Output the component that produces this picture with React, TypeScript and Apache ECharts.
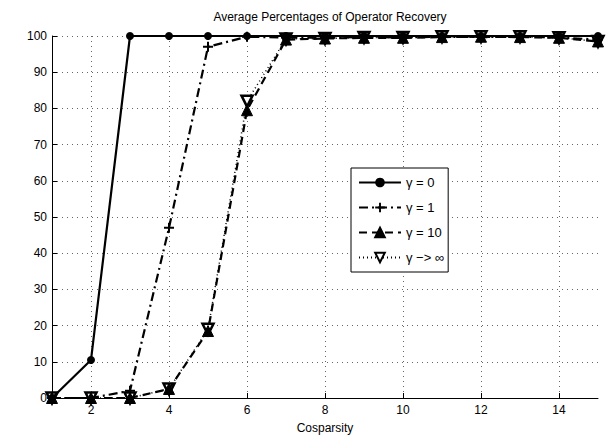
import React, { useEffect, useRef } from "react";
import * as echarts from "echarts";

const categories = ["1", "2", "3", "4", "5", "6", "7", "8", "9", "10", "11", "12", "13", "14", "15"];
const gamma0 = [0, 10.5, 100, 100, 100, 100, 100, 100, 100, 100, 100, 100, 100, 100, 100];
const gamma1 = [0, 0, 2, 47, 97, 99.8, 99.6, 99.5, 99.7, 99.6, 99.8, 99.7, 99.8, 99.6, 99];
const gamma10 = [0, 0, 0, 2.5, 18.5, 79.5, 99, 99.3, 99.5, 99.5, 99.7, 99.8, 99.7, 99.5, 98.5];
const gammaInf = [0, 0, 0, 2.5, 19, 82, 99.2, 99.3, 99.6, 99.6, 99.8, 99.8, 99.8, 99.5, 98.5];
const names = ["γ = 0", "γ = 1", "γ = 10", "γ −> ∞"];

const plusPath = "path://M4,0 L6,0 L6,4 L10,4 L10,6 L6,6 L6,10 L4,10 L4,6 L0,6 L0,4 L4,4 Z";

export default function App() {
  const ref = useRef<HTMLDivElement>(null);
  useEffect(() => {
    const chart = echarts.init(ref.current!, undefined, { renderer: "svg" });
    const font = "'Liberation Sans', Arial, sans-serif";
    const evenIdx = (i: number) => (i + 1) % 2 === 0;
    chart.setOption({
      animation: false,
      backgroundColor: "#fff",
      textStyle: { fontFamily: font },
      title: {
        text: "Average Percentages of Operator Recovery",
        left: 325,
        textAlign: "center",
        top: 6,
        textStyle: { fontSize: 12, fontWeight: "normal", color: "#000", fontFamily: font },
      },
      grid: { left: 52, right: 12, top: 36, bottom: 41, containLabel: false },
      legend: {
        orient: "vertical",
        left: 351,
        top: 168,
        width: 97,
        backgroundColor: "#fff",
        borderColor: "#000",
        borderWidth: 1,
        borderRadius: 0,
        padding: [8, 4, 8, 7],
        itemWidth: 42,
        itemHeight: 12,
        itemGap: 12,
        textStyle: { fontSize: 13, color: "#000", fontFamily: font },
        data: names,
      },
      xAxis: {
        type: "category",
        data: categories,
        boundaryGap: false,
        name: "Cosparsity",
        nameLocation: "middle",
        nameGap: 24,
        nameTextStyle: { fontSize: 12, color: "#000" },
        axisLine: { lineStyle: { color: "#000", width: 1 } },
        axisTick: { inside: true, interval: (i: number) => evenIdx(i), length: 5, lineStyle: { color: "#000" } },
        axisLabel: { interval: (i: number) => evenIdx(i), fontSize: 12, color: "#000", margin: 6 },
        splitLine: { show: true, interval: (i: number) => evenIdx(i), lineStyle: { color: "#666", type: [1, 4], width: 1 } },
      },
      yAxis: {
        type: "value",
        min: 0,
        max: 100,
        interval: 10,
        axisLine: { show: true, lineStyle: { color: "#000", width: 1 } },
        axisTick: { show: true, inside: true, length: 5, lineStyle: { color: "#000" } },
        axisLabel: { fontSize: 12, color: "#000", margin: 5 },
        splitLine: { show: true, lineStyle: { color: "#666", type: [1, 4], width: 1 } },
      },
      series: [
        {
          name: names[0],
          type: "line",
          data: gamma0,
          symbol: "circle",
          symbolSize: 8,
          itemStyle: { color: "#000" },
          lineStyle: { color: "#000", width: 2.2, type: "solid" },
          z: 5,
        },
        {
          name: names[1],
          type: "line",
          data: gamma1,
          symbol: plusPath,
          symbolSize: 10,
          itemStyle: { color: "#000" },
          lineStyle: { color: "#000", width: 2.2, type: [9, 4, 2, 4] },
          z: 4,
        },
        {
          name: names[2],
          type: "line",
          data: gamma10,
          symbol: "triangle",
          symbolSize: 11,
          itemStyle: { color: "#000", borderColor: "#000", borderWidth: 1 },
          lineStyle: { color: "#000", width: 2.2, type: [8, 5] },
          z: 3,
        },
        {
          name: names[3],
          type: "line",
          data: gammaInf,
          symbol: "triangle",
          symbolRotate: 180,
          symbolSize: 11,
          itemStyle: { color: "#fff", borderColor: "#000", borderWidth: 2.5 },
          lineStyle: { color: "#000", width: 1.5, type: [1, 3] },
          z: 2,
        },
      ],
    });
    return () => chart.dispose();
  }, []);
  return <div ref={ref} style={{ position: "absolute", left: 0, top: 0, width: 610, height: 439 }} />;
}
